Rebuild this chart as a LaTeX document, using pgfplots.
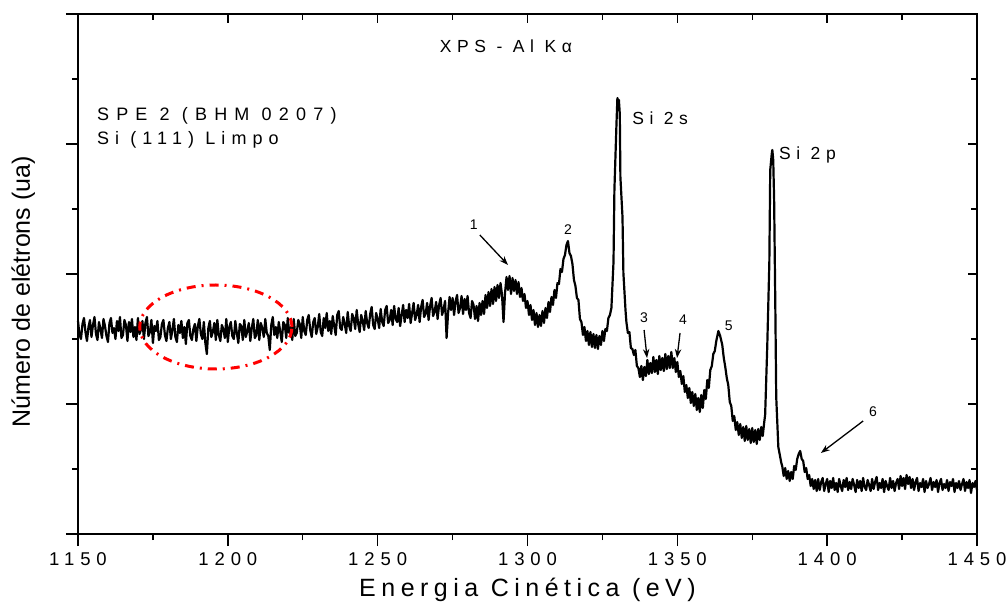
\documentclass[border=0pt]{standalone}
\usepackage{pgfplots}
\pgfplotsset{compat=1.18}
\usetikzlibrary{arrows.meta}
\usepackage{fontspec}
\setmainfont{Liberation Sans}
\newfontfamily\spacedA{Liberation Sans}[LetterSpace=32]
\newfontfamily\spacedB{Liberation Sans}[LetterSpace=22]
\newfontfamily\spacedC{Liberation Sans}[LetterSpace=40]
\newfontfamily\spacedD{Liberation Sans}[LetterSpace=34]
\newcommand\tickfont{\spacedA\fontsize{18.5}{20}\selectfont}
\newcommand\annfont{\spacedA\fontsize{17.5}{20}\selectfont}
\newcommand\spefont{\spacedC\fontsize{18}{20}\selectfont}
\newcommand\limfont{\spacedD\fontsize{18}{20}\selectfont}
\newcommand\numfont{\fontsize{14}{16}\selectfont}
\begin{document}
\begin{tikzpicture}
\begin{axis}[
  width=899pt, height=520pt, scale only axis,
  xmin=1150, xmax=1450, ymin=0, ymax=520,
  xtick={1150,1200,1250,1300,1350,1400,1450},
  xticklabels={1150,1200,1250,1300,1350,1400,1450},
  minor xtick={1175,1225,1275,1325,1375,1425},
  ytick={0,130,260,390,520}, yticklabels={},
  minor ytick={65,195,325,455},
  tick align=outside, xtick pos=bottom, ytick pos=left,
  major tick length=12pt, minor tick length=6pt,
  every tick/.style={black, line width=1.4pt},
  axis line style={line width=1.5pt},
  xticklabel style={font=\tickfont, yshift=-3pt},
  xlabel={Energia Cinética (eV)},
  xlabel style={font=\spacedB\fontsize{25}{28}\selectfont, at={(axis description cs:0.5,-0.121)}, anchor=base},
  ylabel={Número de elétrons (ua)},
  ylabel style={font=\fontsize{25}{28}\selectfont, at={(axis description cs:-0.0534,0.466)}, anchor=base},
  clip=false,
]
\addplot[black, line width=2.2pt, line join=round] coordinates {
(1150,213)(1150.5,199)(1151,195)(1151.5,210)(1152,216)(1152.5,202)(1153,193)(1153.5,207)(1154,214)(1154.5,197)
(1155,209)(1155.5,217)(1156,200)(1156.5,194)(1157,212)(1157.5,205)(1158,196)(1158.5,215)(1159,208)(1159.5,198)
(1160,192)(1160.5,211)(1161,216)(1161.5,201)(1162,206)(1162.5,195)(1163,213)(1163.5,203)(1164,217)(1164.5,196)
(1165,199)(1165.5,214)(1166,209)(1166.5,193)(1167,212)(1167.5,202)(1168,215)(1168.5,197)(1169,207)(1169.5,194)
(1170,216)(1170.5,200)(1171,204)(1171.5,213)(1172,195)(1172.5,211)(1173,217)(1173.5,198)(1174,202)(1174.5,214)
(1175,191)(1175.5,208)(1176,203)(1176.5,213)(1177,194)(1177.5,197)(1178,210)(1178.5,214)(1179,199)(1179.5,193)
(1180,206)(1180.5,212)(1181,195)(1181.5,204)(1182,215)(1182.5,197)(1183,192)(1183.5,209)(1184,201)(1184.5,213)
(1185,196)(1185.5,207)(1186,190)(1186.5,211)(1187,214)(1187.5,198)(1188,194)(1188.5,205)(1189,210)(1189.5,193)
(1190,208)(1190.5,215)(1191,200)(1191.5,195)(1192,212)(1192.5,191)(1193,180)(1193.5,206)(1194,213)(1194.5,197)
(1195,202)(1195.5,211)(1196,194)(1196.5,214)(1197,199)(1197.5,193)(1198,209)(1198.5,205)(1199,196)(1199.5,215)
(1200,192)(1200.5,207)(1201,212)(1201.5,198)(1202,195)(1202.5,213)(1203,201)(1203.5,191)(1204,210)(1204.5,208)
(1205,194)(1205.5,214)(1206,197)(1206.5,203)(1207,211)(1207.5,193)(1208,206)(1208.5,215)(1209,196)(1209.5,199)
(1210,214)(1210.5,194)(1211,211)(1211.5,206)(1212,197)(1212.5,215)(1213,201)(1213.5,198)(1214,184)(1214.5,209)
(1215,217)(1215.5,199)(1216,207)(1216.5,196)(1217,212)(1217.5,202)(1218,192)(1218.5,212)(1219,209)(1219.5,196)
(1220,216)(1220.5,201)(1221,207)(1221.5,194)(1222,215)(1222.5,198)(1223,201)(1223.5,214)(1224,210)(1224.5,196)
(1225,217)(1225.5,203)(1226,199)(1226.5,214)(1227,219)(1227.5,204)(1228,197)(1228.5,212)(1229,216)(1229.5,200)
(1230,207)(1230.5,220)(1231,202)(1231.5,198)(1232,216)(1232.5,206)(1233,221)(1233.5,203)(1234,213)(1234.5,200)
(1235,218)(1235.5,208)(1236,199)(1236.5,219)(1237,223)(1237.5,206)(1238,204)(1238.5,217)(1239,210)(1239.5,201)
(1240,222)(1240.5,208)(1241,203)(1241.5,220)(1242,216)(1242.5,205)(1243,224)(1243.5,210)(1244,202)(1244.5,219)
(1245,213)(1245.5,204)(1246,223)(1246.5,211)(1247,206)(1247.5,220)(1248,227)(1248.5,209)(1249,205)(1249.5,221)
(1250,215)(1250.5,206)(1251,225)(1251.5,212)(1252,208)(1252.5,224)(1253,228)(1253.5,211)(1254,214)(1254.5,224)
(1255,209)(1255.5,228)(1256,215)(1256.5,212)(1257,226)(1257.5,208)(1258,219)(1258.5,229)(1259,212)(1259.5,224)
(1260,216)(1260.5,230)(1261,211)(1261.5,221)(1262,231)(1262.5,214)(1263,219)(1263.5,229)(1264,212)(1264.5,227)
(1265,234)(1265.5,217)(1266,220)(1266.5,231)(1267,214)(1267.5,228)(1268,236)(1268.5,218)(1269,222)(1269.5,232)
(1270,215)(1270.5,229)(1271,236)(1271.5,219)(1272,225)(1272.5,233)(1273,196)(1273.5,221)(1274,237)(1274.5,224)
(1275,236)(1275.5,219)(1276,233)(1276.5,239)(1277,221)(1277.5,226)(1278,238)(1278.5,220)(1279,235)(1279.5,224)
(1280,238)(1280.5,221)(1281,216)(1281.5,233)(1282,229)(1282.5,215)(1283,228)(1283.5,213)(1284,231)(1284.5,219)
(1285,233)(1285.5,220)(1286,239)(1286.5,226)(1287,242)(1287.5,228)(1288,245)(1288.5,230)(1289,247)(1289.5,233)
(1290,249)(1290.5,236)(1291,251)(1291.5,239)(1292,212)(1292.5,241)(1293,257)(1293.5,244)(1294,258)(1294.5,240)
(1295,256)(1295.5,243)(1296,254)(1296.5,240)(1297,252)(1297.5,237)(1298,246)(1298.5,233)(1299,240)(1299.5,226)
(1300,233)(1300.5,219)(1301,229)(1301.5,214)(1302,224)(1302.5,209)(1303,221)(1303.5,207)(1304,219)(1304.5,208)
(1305,223)(1305.5,211)(1306,226)(1306.5,216)(1307,232)(1307.5,222)(1308,237)(1308.5,229)(1309,244)(1309.5,236)
(1310,251)(1310.5,250)(1311,265)(1311.5,262)(1312,275)(1312.5,279)(1313,289)(1313.5,293)(1314,281)(1314.5,278)
(1315,270)(1315.5,254)(1316,248)(1316.5,236)(1317,234)(1317.5,215)(1318,212)(1318.5,199)(1319,207)(1319.5,193)
(1320,203)(1320.5,189)(1321,202)(1321.5,187)(1322,200)(1322.5,186)(1323,199)(1323.5,185)(1324,198)(1324.5,189)
(1325,203)(1325.5,193)(1326,205)(1326.5,203)(1327,216)(1327.5,219)(1328,226)
(1328.7,272)(1329,344)(1329.7,411)(1330,436)(1330.3,428)(1330.5,434)(1330.8,420)(1331,357)(1331.7,317)(1332,261)
(1332.7,224)(1333,212)(1333.5,201)(1334,202)(1334.5,186)(1335,185)(1335.5,179)(1336,184)(1336.5,168)(1337,166)
(1337.5,157)(1338,168)(1338.5,154)(1339,167)(1339.5,158)(1340,174)(1340.5,160)(1341,171)(1341.5,161)(1342,177)
(1342.5,162)(1343,174)(1343.5,160)(1344,178)(1344.5,164)(1345,176)(1345.5,163)(1346,180)(1346.5,165)(1347,178)
(1347.5,166)(1348,182)(1348.5,166)(1349,176)(1349.5,162)(1350,172)(1350.5,157)(1351,163)(1351.5,150)(1352,158)
(1352.5,142)(1353,149)(1353.5,136)(1354,146)(1354.5,131)(1355,142)(1355.5,128)(1356,140)(1356.5,124)(1357,136)
(1357.5,122)(1358,139)(1358.5,126)(1359,144)(1359.5,135)(1360,154)(1360.5,146)(1361,164)(1361.5,168)(1362,180)
(1362.5,183)(1363,193)(1363.7,203)(1364.3,198)(1365,189)(1365.5,176)(1366,167)(1366.5,156)(1367,149)(1367.5,132)
(1368,128)(1368.5,113)(1369,118)(1369.5,104)(1370,112)(1370.5,99)(1371,110)(1371.5,96)(1372,107)(1372.5,93)
(1373,108)(1373.5,94)(1374,105)(1374.5,91)(1375,106)(1375.5,92)(1376,104)(1376.5,90)(1377,105)(1377.5,94)
(1378,107)(1378.5,98)(1379,112)(1379.3,119)
(1380,187)(1380.7,271)(1381,364)(1381.5,380)(1381.7,384)(1382,374)(1382.3,334)(1382.7,227)(1383,137)(1383.7,87)
(1384.7,71)(1385,68)(1385.5,58)(1386,66)(1386.5,55)(1387,63)(1387.5,53)(1388,62)(1388.5,55)(1389,68)
(1389.5,64)(1390,75)(1390.5,80)(1391,83)(1391.5,75)(1392,73)(1392.5,62)(1393,66)(1393.5,55)(1394,59)
(1394.5,48)(1395,55)(1395.5,45)(1396,54)(1396.5,43)(1397,55)(1397.5,44)(1398,52)(1398.5,56)(1399,43)
(1399.5,50)(1400,55)(1400.5,42)(1401,53)(1401.5,46)(1402,56)(1402.5,44)(1403,51)(1403.5,42)(1404,55)
(1404.5,48)(1405,43)(1405.5,54)(1406,47)(1406.5,56)(1407,44)(1407.5,52)(1408,45)(1408.5,55)(1409,49)
(1409.5,42)(1410,54)(1410.5,46)(1411,53)(1411.5,43)(1412,56)(1412.5,47)(1413,44)(1413.5,54)(1414,49)
(1414.5,43)(1415,55)(1415.5,45)(1416,52)(1416.5,57)(1417,44)(1417.5,51)(1418,46)(1418.5,55)(1419,42)
(1419.5,53)(1420,48)(1420.5,44)(1421,56)(1421.5,46)(1422,53)(1422.5,43)(1423,51)(1423.5,55)(1424,45)
(1424.5,58)(1425,48)(1425.5,56)(1426,45)(1426.5,59)(1427,50)(1427.5,57)(1428,46)(1428.5,55)(1429,44)
(1429.5,52)(1430,56)(1430.5,43)(1431,51)(1431.5,47)(1432,55)(1432.5,42)(1433,53)(1433.5,46)(1434,50)
(1434.5,56)(1435,44)(1435.5,52)(1436,47)(1436.5,54)(1437,42)(1437.5,51)(1438,55)(1438.5,44)(1439,50)
(1439.5,46)(1440,54)(1440.5,43)(1441,52)(1441.5,48)(1442,55)(1442.5,42)(1443,51)(1443.5,46)(1444,53)
(1444.5,44)(1445,50)(1445.5,55)(1446,43)(1446.5,52)(1447,46)(1447.5,54)(1448,41)(1448.5,51)(1449,47)
(1449.5,53)(1450,44)
};
% annotations
\node[font=\annfont, anchor=base] at (axis cs:1292.8,481) {XPS - Al Kα};
\node[font=\spefont, anchor=base west, inner sep=0pt] at (axis cs:1156.3,413) {SPE 2 (BHM 0207)};
\node[font=\limfont, anchor=base west, inner sep=0pt] at (axis cs:1156.3,389) {Si (111) Limpo};
\node[font=\annfont, anchor=base west, inner sep=0pt] at (axis cs:1334.9,409) {Si 2s};
\node[font=\annfont, anchor=base west, inner sep=0pt] at (axis cs:1383.9,374) {Si 2p};
\node[font=\numfont] at (axis cs:1282.1,309) {1};
\node[font=\numfont] at (axis cs:1313.5,304) {2};
\node[font=\numfont] at (axis cs:1338.9,216) {3};
\node[font=\numfont] at (axis cs:1351.9,214) {4};
\node[font=\numfont] at (axis cs:1367.2,208) {5};
\node[font=\numfont] at (axis cs:1415.3,122) {6};
\begin{scope}[-{Stealth[length=9pt,width=6.5pt]}, line width=1.3pt]
\draw (axis cs:1284.1,299) -- (axis cs:1293.5,269);
\draw (axis cs:1338.9,204) -- (axis cs:1339.9,176);
\draw (axis cs:1350.9,201) -- (axis cs:1349.9,176);
\draw (axis cs:1412.0,113) -- (axis cs:1397.9,81);
\end{scope}
\draw[red, line width=3pt, dash pattern=on 9pt off 6pt on 2pt off 6pt] (axis cs:1196,207) ellipse [x radius=25.4, y radius=42];
\coordinate (bl) at (rel axis cs:-0.08676,-0.15);
\coordinate (tr) at (rel axis cs:1.03226,1.02692);
\end{axis}
\begin{axis}[
  width=899pt, height=520pt, scale only axis,
  xmin=1150, xmax=1450, ymin=0, ymax=520,
  xtick={1150,1200,1250,1300,1350,1400,1450}, xticklabels={},
  minor xtick={1175,1225,1275,1325,1375,1425},
  ytick={0,130,260,390,520}, yticklabels={},
  minor ytick={65,195,325,455},
  tick align=inside, xtick pos=top, ytick pos=right,
  major tick length=9pt, minor tick length=6pt,
  every tick/.style={black, line width=1.4pt},
  axis line style={line width=1.5pt},
]
\end{axis}
\pgfresetboundingbox
\path[use as bounding box] (bl) rectangle (tr);
\end{tikzpicture}
\end{document}
